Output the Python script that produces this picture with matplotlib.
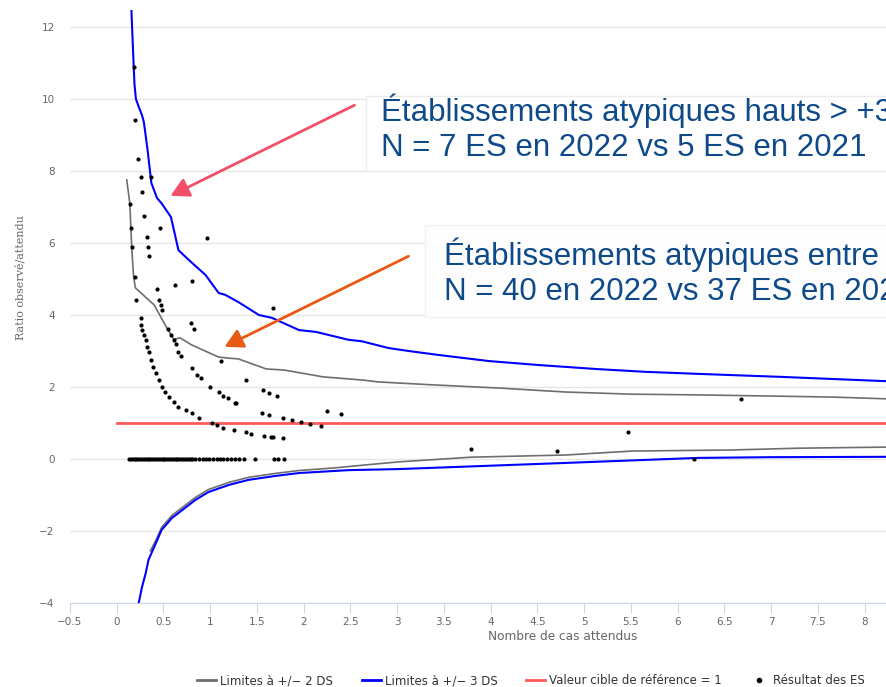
import matplotlib.pyplot as plt
from matplotlib.lines import Line2D
from matplotlib.patches import Rectangle, FancyArrowPatch

# limits +/- 3 DS (blue)
up3_x = [0.155, 0.175, 0.19, 0.205, 0.24, 0.27, 0.29, 0.33, 0.37, 0.43, 0.48, 0.58, 0.66,
         0.77, 0.95, 1.09, 1.16, 1.30, 1.52, 1.66, 1.95, 2.13, 2.48, 2.62, 2.91, 3.12, 3.44,
         3.98, 4.51, 5.12, 5.66, 6.26, 7.11, 8.24]
up3_y = [12.6, 11.3, 10.4, 10.0, 9.75, 9.55, 9.36, 8.58, 7.67, 7.25, 7.1, 6.72, 5.8,
         5.53, 5.11, 4.61, 4.56, 4.36, 4.0, 3.92, 3.58, 3.53, 3.31, 3.27, 3.08, 3.0, 2.89,
         2.72, 2.61, 2.5, 2.42, 2.36, 2.28, 2.16]
lo3_x = [0.235, 0.27, 0.31, 0.34, 0.42, 0.48, 0.59, 0.70, 0.84, 0.98, 1.2, 1.41, 1.7,
         1.95, 2.48, 3.02, 4.8, 6.22, 7.0, 8.24]
lo3_y = [-4.0, -3.56, -3.17, -2.8, -2.33, -1.97, -1.64, -1.42, -1.14, -0.92, -0.72, -0.58,
         -0.47, -0.39, -0.31, -0.28, -0.11, 0.03, 0.05, 0.06]

# limits +/- 2 DS (grey)
up2_x = [0.107, 0.14, 0.16, 0.18, 0.20, 0.40, 0.53, 0.61, 0.68, 0.80, 1.09, 1.2, 1.3,
         1.6, 1.79, 2.21, 2.64, 2.8, 3.37, 4.09, 4.8, 5.51, 6.22, 6.94, 7.65, 8.24]
up2_y = [7.75, 7.1, 5.9, 5.06, 4.75, 4.28, 3.67, 3.33, 3.36, 3.17, 2.83, 2.8, 2.78,
         2.5, 2.47, 2.28, 2.19, 2.14, 2.06, 1.97, 1.86, 1.8, 1.78, 1.75, 1.72, 1.67]
lo2_x = [0.36, 0.42, 0.48, 0.59, 0.70, 0.84, 0.98, 1.2, 1.41, 1.7, 1.95, 2.32, 2.64,
         3.02, 3.79, 4.8, 5.51, 6.58, 7.3, 8.24]
lo2_y = [-2.55, -2.25, -1.9, -1.57, -1.35, -1.07, -0.85, -0.65, -0.51, -0.40, -0.32,
         -0.25, -0.17, -0.08, 0.05, 0.11, 0.22, 0.25, 0.3, 0.33]

target_x = [0, 8.24]
target_y = [1, 1]

# ES results
es_x = [0.18, 0.20, 0.225, 0.26, 0.37, 0.27, 0.14, 0.29, 0.46, 0.15, 0.97, 0.32, 0.16, 0.33,
        0.34, 0.19, 0.43, 0.62, 0.80, 0.21, 0.45, 0.47, 0.48, 0.26, 0.26, 0.27, 0.29, 0.31,
        0.32, 0.34, 0.37, 0.39, 0.42, 0.45, 0.48, 0.52, 0.56, 0.61, 0.66, 0.74, 0.80, 0.88,
        0.55, 0.58, 0.61, 0.63, 0.66, 0.69, 0.79, 0.83, 0.80, 0.86, 0.90, 1.0, 1.09, 1.14,
        1.19, 1.27, 1.12, 1.02, 1.07, 1.14, 1.25,
        1.67, 1.38, 1.56, 1.63, 1.71, 1.28, 1.55, 1.63, 1.78, 1.88, 1.97, 2.07, 2.19, 2.25,
        2.40, 1.38, 1.44, 1.57, 1.65, 1.67, 1.78,
        3.79, 4.71, 5.47, 6.68, 6.18]
es_y = [10.89, 9.42, 8.33, 7.83, 7.83, 7.42, 7.08, 6.75, 6.42, 6.42, 6.14, 6.17, 5.89, 5.89,
        5.64, 5.06, 4.72, 4.83, 4.94, 4.42, 4.42, 4.28, 4.14, 3.92, 3.72, 3.58, 3.44, 3.31,
        3.11, 2.97, 2.75, 2.56, 2.39, 2.19, 2.0, 1.86, 1.72, 1.58, 1.44, 1.36, 1.28, 1.14,
        3.61, 3.44, 3.31, 3.19, 2.97, 2.86, 3.78, 3.61, 2.53, 2.33, 2.25, 2.0, 1.86, 1.75,
        1.69, 1.56, 2.72, 1.0, 0.94, 0.86, 0.81,
        4.19, 2.19, 1.92, 1.83, 1.75, 1.56, 1.28, 1.22, 1.14, 1.08, 1.03, 0.97, 0.92, 1.33,
        1.25, 0.75, 0.69, 0.64, 0.61, 0.61, 0.58,
        0.28, 0.22, 0.75, 1.67, 0.0]
# ES with no observed case
zero_x = [0.13, 0.15, 0.17, 0.19, 0.21, 0.23, 0.25, 0.27, 0.29, 0.31, 0.33, 0.35, 0.37,
          0.39, 0.41, 0.43, 0.45, 0.47, 0.49, 0.51, 0.53, 0.55, 0.57, 0.59, 0.61, 0.63,
          0.65, 0.67, 0.69, 0.71, 0.73, 0.75, 0.77, 0.79, 0.81, 0.84, 0.88, 0.92, 0.95,
          0.99, 1.03, 1.07, 1.10, 1.14, 1.18, 1.22, 1.27, 1.31, 1.36, 1.48, 1.68, 1.73, 1.79]

W, H = 887, 687
fig = plt.figure(figsize=(W / 100, H / 100), dpi=100)
fig.patch.set_facecolor("white")
ax = fig.add_axes([70 / W, 84 / H, (W - 70) / W, (603 - 10) / H])
ax.set_xlim(-0.5, 8.24)
ax.set_ylim(-4, 12.47)

ax.plot(up2_x, up2_y, color="#6e6e6e", lw=1.2, zorder=3)
ax.plot(lo2_x, lo2_y, color="#6e6e6e", lw=1.2, zorder=3)
ax.plot(up3_x, up3_y, color="#0000ff", lw=1.5, zorder=3)
ax.plot(lo3_x, lo3_y, color="#0000ff", lw=1.5, zorder=3)
ax.plot(target_x, target_y, color="#ff5a5a", lw=2, zorder=2)
ax.scatter(es_x, es_y, s=9, color="black", zorder=4, linewidths=0)
ax.scatter(zero_x, [0] * len(zero_x), s=9, color="black", zorder=4, linewidths=0)

ax.set_xticks([v / 2 for v in range(-1, 17)])
ax.set_xticklabels([f"{v / 2:g}".replace("-", "\u2212") for v in range(-1, 17)])
ax.set_yticks(range(-4, 13, 2))
ax.set_yticklabels([str(v).replace("-", "\u2212") for v in range(-4, 13, 2)])
ax.grid(axis="y", color="#e6e6e6", lw=1)
ax.set_axisbelow(True)
for s in ["top", "right", "left"]:
    ax.spines[s].set_visible(False)
ax.spines["bottom"].set_color("#ccd6eb")
ax.tick_params(axis="x", colors="#666666", labelsize=7.5, length=7, color="#ccd6eb", pad=3)
ax.tick_params(axis="y", colors="#666666", labelsize=7.5, length=0, pad=11)

fig.text(563 / W, 1 - 637 / H, "Nombre de cas attendus", ha="center", va="center",
         fontsize=8.7, color="#666666")
fig.text(20 / W, 1 - 278 / H, "Ratio observé/attendu", ha="center", va="center",
         rotation=90, fontsize=8, color="#666666", family="DejaVu Serif")

handles = [Line2D([], [], color="#6e6e6e", lw=2),
           Line2D([], [], color="#0000ff", lw=2),
           Line2D([], [], color="#ff5a5a", lw=2),
           Line2D([], [], color="black", marker="o", ls="none", markersize=3)]
labels = ["Limites à +/\u2212 2 DS", "Limites à +/\u2212 3 DS",
          "Valeur cible de référence = 1", "Résultat des ES"]
fig.legend(handles, labels, loc="center", bbox_to_anchor=(531 / W, 1 - 681 / H), ncol=4,
           frameon=False, fontsize=8.5, handlelength=1.6, columnspacing=2.4,
           handletextpad=0.35, labelcolor="#333333")

# annotation boxes
fig.add_artist(Rectangle((366 / W, 1 - 171 / H), (W - 366) / W, 75 / H,
                         transform=fig.transFigure, facecolor="white",
                         edgecolor="#ececec", lw=1, zorder=5))
fig.add_artist(Rectangle((425 / W, 1 - 317 / H), (W - 425) / W, 92 / H,
                         transform=fig.transFigure, facecolor="#fdfdfd",
                         edgecolor="#f2f2f2", lw=1, zorder=5))
fig.text(381 / W, 1 - 128 / H, "Établissements atypiques hauts > +3 DS\n"
         "N = 7 ES en 2022 vs 5 ES en 2021", ha="left", va="center", fontsize=22.5,
         color="#0e4a8a", family="Liberation Sans", zorder=6, linespacing=1.2)
fig.text(444 / W, 1 - 272 / H, "Établissements atypiques entre +2 et +3 DS\n"
         "N = 40 en 2022 vs 37 ES en 2021", ha="left", va="center", fontsize=22.5,
         color="#0e4a8a", family="Liberation Sans", zorder=6, linespacing=1.2)

fig.add_artist(FancyArrowPatch((357 / W, 1 - 104 / H), (168 / W, 1 - 197 / H),
                               transform=fig.transFigure,
                               arrowstyle="-|>,head_length=11,head_width=6",
                               color="#f2506a", lw=2, zorder=7))
fig.add_artist(FancyArrowPatch((411 / W, 1 - 255 / H), (222 / W, 1 - 348 / H),
                               transform=fig.transFigure,
                               arrowstyle="-|>,head_length=11,head_width=6",
                               color="#e65a14", lw=2, zorder=7))

fig.savefig("out.png", dpi=100)
